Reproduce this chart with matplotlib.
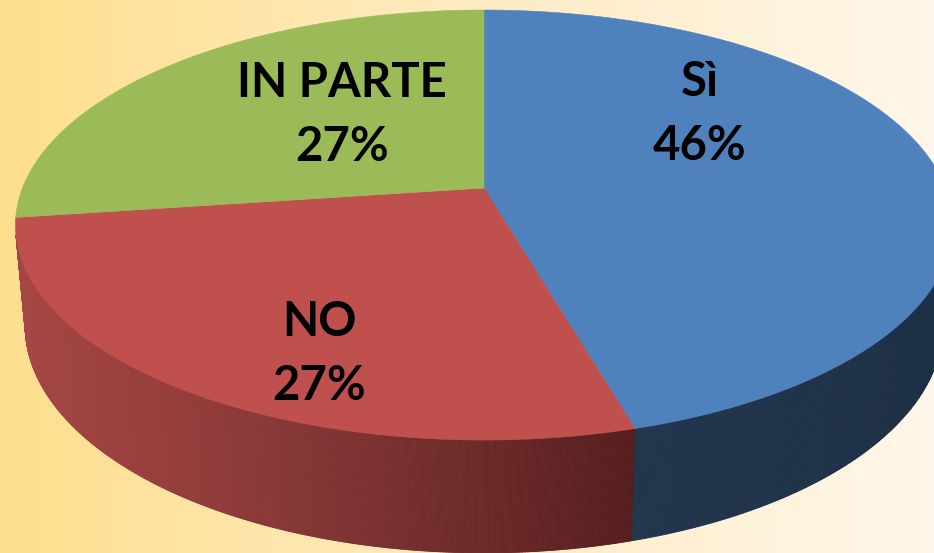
import numpy as np
import matplotlib
matplotlib.use("Agg")
import matplotlib.pyplot as plt
from matplotlib.patches import Polygon
from matplotlib.collections import PolyCollection
from matplotlib.colors import to_rgb, LinearSegmentedColormap

# ---- data ----
categories = ["Sì", "NO", "IN PARTE"]
values = [45.6, 27.2, 27.2]   # shares (labels show 46%, 27%, 27%)

# ---- style ----
top_colors = ["#4F81BD", "#C0504D", "#9BBB59"]
side_left = ["#21354D", "#A54644", "#7A9443"]
side_right = ["#1D2F45", "#551E1E", "#5A6E30"]
label_pos = [(700, 114), (319, 354), (342, 115)]  # pixel layout of labels

W, H_PX = 934, 553
CX, CY = 484, 188
FX, FY = 2400, 2440
D = 5.20
PHI = np.radians(26.4)
THICK = 0.24


def proj(theta, z=0.0, r=1.0):
    x = r * np.cos(theta)
    y = r * np.sin(theta)
    depth = y * np.cos(PHI) - z * np.sin(PHI) + D
    X = FX * x / depth
    Yup = FY * (y * np.sin(PHI) + z * np.cos(PHI)) / depth
    return CX + X, CY - Yup


fig = plt.figure(figsize=(W / 100, H_PX / 100), dpi=100)
ax = fig.add_axes([0, 0, 1, 1])
ax.set_xlim(0, W)
ax.set_ylim(H_PX, 0)
ax.axis("off")

# background gradient
bg = LinearSegmentedColormap.from_list(
    "bg", [(0, "#FEDF8E"), (0.5, "#FFEBC2"), (1, "#FFF7EA")])
grad = np.linspace(0, 1, 512)[None, :]
ax.imshow(grad, cmap=bg, extent=[0, W, H_PX, 0], aspect="auto", zorder=0)

total = float(sum(values))
pct_labels = [f"{round(v / total * 100):.0f}%" for v in values]
start = 90.0
spans = []
for v in values:
    end = start - v / total * 360.0
    spans.append((end, start))
    start = end

vis_lim = -1.0 / (D * np.cos(PHI))

# sides
for i, (a0, a1) in enumerate(spans):
    th = np.radians(np.linspace(a0, a1, 600))
    th = th[np.sin(th) < vis_lim]
    if len(th) < 2:
        continue
    polys, cols = [], []
    cl, cr = np.array(to_rgb(side_left[i])), np.array(to_rgb(side_right[i]))
    xs_all = [proj(t)[0] for t in th]
    xmin, xmax = min(xs_all), max(xs_all)
    for k in range(len(th) - 1):
        t0, t1 = th[k], th[k + 1]
        p = [proj(t0), proj(t1), proj(t1, -THICK), proj(t0, -THICK)]
        polys.append(p)
        xm = 0.5 * (p[0][0] + p[1][0])
        f = 0 if xmax == xmin else (xm - xmin) / (xmax - xmin)
        f = f ** 1.15
        c = cl * (1 - f) + cr * f
        cols.append(c)
    pc = PolyCollection(polys, facecolors=cols, edgecolors=cols,
                        linewidths=0.6, zorder=2)
    ax.add_collection(pc)

# tops
for i, (a0, a1) in enumerate(spans):
    th = np.radians(np.linspace(a0, a1, 400))
    pts = [proj(0, 0, 0)] + [proj(t) for t in th]
    ax.add_patch(Polygon(pts, closed=True, facecolor=top_colors[i],
                         edgecolor=top_colors[i], linewidth=0.4, zorder=3))

# labels
for i, (x, y) in enumerate(label_pos):
    ax.text(x, y, f"{categories[i]}\n{pct_labels[i]}", ha="center", va="center",
            fontsize=34, fontweight="bold", family=["Lato", "DejaVu Sans"],
            color="black", linespacing=1.58, zorder=5)

fig.savefig("out.png", dpi=100)
